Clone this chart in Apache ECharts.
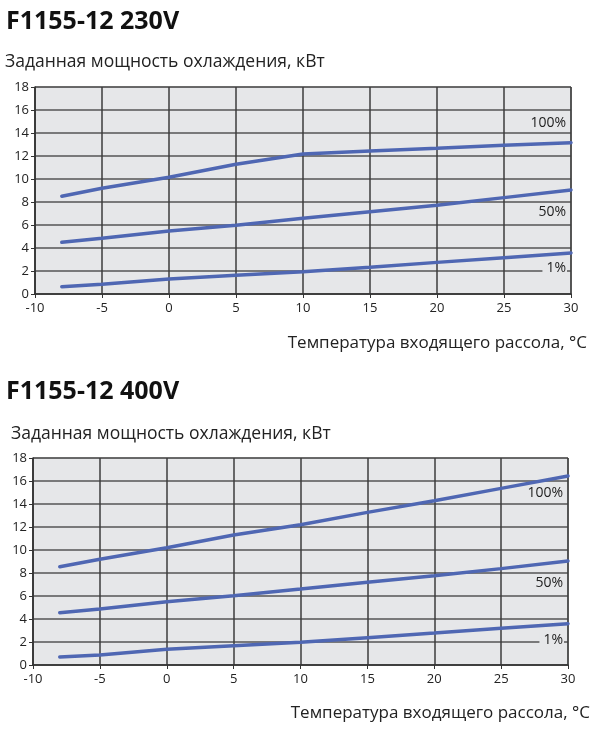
<!DOCTYPE html>
<html>
<head>
<meta charset="utf-8">
<script src="https://cdn.jsdelivr.net/npm/echarts@6/dist/echarts.min.js"></script>
<style>
  html, body { margin: 0; padding: 0; background: #fff; }
  #chart { width: 595px; height: 732px; }
</style>
</head>
<body>
<div id="chart"></div>
<script>
// brine inlet temperature, °C
const temps = [-8, -5, 0, 5, 10, 15, 20, 25, 30];

// F1155-12 230V, cooling capacity kW
const p230_100 = [8.5, 9.19, 10.15, 11.28, 12.17, 12.43, 12.67, 12.93, 13.16];
const p230_50 = [4.49, 4.84, 5.48, 5.97, 6.58, 7.16, 7.71, 8.38, 9.04];
const p230_1 = [0.64, 0.84, 1.3, 1.62, 1.94, 2.32, 2.75, 3.16, 3.57];

// F1155-12 400V
const p400_100 = [8.55, 9.2, 10.2, 11.3, 12.2, 13.27, 14.29, 15.36, 16.43];
const p400_50 = [4.55, 4.87, 5.5, 6.03, 6.6, 7.19, 7.77, 8.38, 9.04];
const p400_1 = [0.7, 0.87, 1.36, 1.68, 1.97, 2.38, 2.78, 3.19, 3.59];

const seriesNames = ['100%', '50%', '1%'];
// where the percent labels sit, in kW, at the right edge
const labelY230 = [14.85, 7.15, 2.25];
const labelY400 = [14.95, 7.15, 2.2];

const titles = ['F1155-12 230V', 'F1155-12 400V'];
const yName = 'Заданная мощность охлаждения, кВт';
const xName = 'Температура входящего рассола, °C';

const FONT = '"Open Sans", "Noto Sans", sans-serif';
const LINE = '#4f67b3';
const BG = '#e6e7e9';

const chart = echarts.init(document.getElementById('chart'), null, { renderer: 'canvas' });

function axisX(gi) {
  return {
    type: 'value', gridIndex: gi, min: -10, max: 30, interval: 5,
    axisLine: { show: true, onZero: false, lineStyle: { color: '#333', width: 1.5 } },
    axisTick: { show: true, length: 4, lineStyle: { color: '#333' } },
    axisLabel: { color: '#222', fontSize: 13, fontFamily: FONT, margin: 8 },
    splitLine: { show: true, lineStyle: { color: '#3c3c3c', width: 1.5 } }
  };
}
function axisY(gi) {
  return {
    type: 'value', gridIndex: gi, min: 0, max: 18, interval: 2,
    axisLine: { show: true, onZero: false, lineStyle: { color: '#333', width: 1.5 } },
    axisTick: { show: true, length: 4, lineStyle: { color: '#333' } },
    axisLabel: { color: '#222', fontSize: 13, fontFamily: FONT, margin: 6 },
    splitLine: { show: true, lineStyle: { color: '#555', width: 1.5 } }
  };
}

function makeSeries(gi, sets, labelYs) {
  return sets.map((vals, i) => ({
    name: seriesNames[i],
    type: 'line',
    xAxisIndex: gi, yAxisIndex: gi,
    data: temps.map((t, k) => [t, vals[k]]),
    showSymbol: false,
    symbol: 'none',
    lineStyle: { color: LINE, width: 3.5, cap: 'round' },
    silent: true,
    markPoint: {
      symbol: 'circle', symbolSize: 0,
      silent: true,
      data: [{ coord: [30, labelYs[i]] }],
      label: {
        show: true, position: 'left', distance: 4,
        formatter: seriesNames[i],
        color: '#222', fontSize: 14, fontFamily: FONT,
        backgroundColor: BG, padding: [0, 1, 0, 4]
      }
    }
  }));
}

const option = {
  backgroundColor: '#fff',
  animation: false,
  title: [
    { text: titles[0], left: 1, top: 4, textStyle: { fontSize: 25, fontWeight: 'bold', color: '#111', fontFamily: FONT } },
    { text: yName, left: 0, top: 48, textStyle: { fontSize: 17.5, fontWeight: 'normal', color: '#222', fontFamily: FONT } },
    { text: xName, right: 3, top: 330, textStyle: { fontSize: 17, fontWeight: 'normal', color: '#222', fontFamily: FONT } },
    { text: titles[1], left: 1, top: 374, textStyle: { fontSize: 25, fontWeight: 'bold', color: '#111', fontFamily: FONT } },
    { text: yName, left: 6, top: 420, textStyle: { fontSize: 17.5, fontWeight: 'normal', color: '#222', fontFamily: FONT } },
    { text: xName, right: 0, top: 700, textStyle: { fontSize: 17, fontWeight: 'normal', color: '#222', fontFamily: FONT } }
  ],
  grid: [
    { left: 35, top: 87, width: 536, height: 207, show: true, backgroundColor: BG, borderColor: '#555', borderWidth: 1 },
    { left: 33, top: 458, width: 535, height: 207, show: true, backgroundColor: BG, borderColor: '#555', borderWidth: 1 }
  ],
  xAxis: [axisX(0), axisX(1)],
  yAxis: [axisY(0), axisY(1)],
  series: [
    ...makeSeries(0, [p230_100, p230_50, p230_1], labelY230),
    ...makeSeries(1, [p400_100, p400_50, p400_1], labelY400)
  ]
};

chart.setOption(option);
</script>
</body>
</html>
